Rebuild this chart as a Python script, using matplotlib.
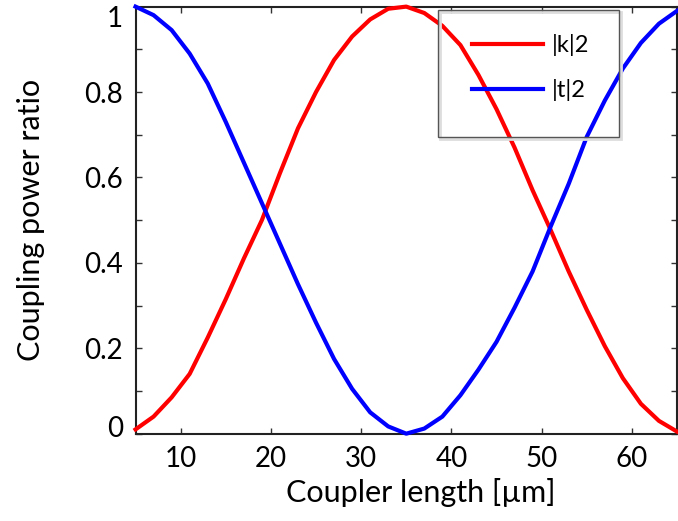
import numpy as np
import matplotlib
matplotlib.use('Agg')
import matplotlib.pyplot as plt
import matplotlib.transforms as mtransforms
from matplotlib.patches import Rectangle

plt.rcParams['font.family'] = ['Lato', 'DejaVu Sans']

# Coupler length [um]
length = [5, 7, 9, 11, 13, 15, 17, 19, 21, 23, 25, 27, 29, 31, 33, 35,
          37, 39, 41, 43, 45, 47, 49, 51, 53, 55, 57, 59, 61, 63, 65]
# |k|^2 : coupled power
kappa2 = [0.01, 0.04, 0.085, 0.14, 0.225, 0.315, 0.41, 0.50, 0.61, 0.715,
          0.80, 0.875, 0.93, 0.97, 0.995, 1.0, 0.985, 0.955, 0.91, 0.84,
          0.76, 0.67, 0.57, 0.477, 0.38, 0.29, 0.205, 0.13, 0.07, 0.03, 0.005]
# |t|^2 : transmitted power
tau2 = [1.0, 0.98, 0.945, 0.89, 0.82, 0.73, 0.635, 0.54, 0.445, 0.35,
        0.26, 0.175, 0.105, 0.05, 0.017, 0.0, 0.012, 0.04, 0.09, 0.15,
        0.215, 0.295, 0.38, 0.485, 0.585, 0.695, 0.78, 0.855, 0.915, 0.96, 0.99]

xticks = [10, 20, 30, 40, 50, 60]
yticks = [0, 0.2, 0.4, 0.6, 0.8, 1]
yticklabels = ['0', '0.2', '0.4', '0.6', '0.8', '1']

fig = plt.figure(figsize=(6.78, 5.21), dpi=100)
ax = fig.add_axes([0.1999, 0.1676, 0.7986, 0.8197])

l1, = ax.plot(length, kappa2, color='#ff0000', lw=3, label='|k|2', clip_on=False, zorder=7)
l2, = ax.plot(length, tau2, color='#0000ff', lw=3, label='|t|2', clip_on=False, zorder=7)

ax.set_xlim(5, 65)
ax.set_ylim(0, 1)
ax.set_xticks(xticks)
ax.set_yticks(yticks)
ax.set_yticklabels(yticklabels)
ax.set_yticks(np.arange(0.1, 1.0, 0.2), minor=True)
ax.tick_params(which='both', direction='in', top=True, right=True,
               length=4, width=1, color='#333333')
ax.tick_params(which='major', labelsize=20, pad=9)
for s in ax.spines.values():
    s.set_linewidth(1.5)
    s.set_color('#222222')

# end labels sit a bit inside, like the original
ylabs = ax.get_yticklabels()
ylabs[0].set_transform(ylabs[0].get_transform() + mtransforms.ScaledTranslation(0, 5 / 72, fig.dpi_scale_trans))
ylabs[-1].set_transform(ylabs[-1].get_transform() + mtransforms.ScaledTranslation(0, -7 / 72, fig.dpi_scale_trans))

ax.set_xlabel('Coupler length [µm]', fontsize=22, x=0.527, labelpad=4)
ax.set_ylabel('Coupling power ratio', fontsize=22, labelpad=28)

# legend box
fig.patches.append(Rectangle((440 / 678, 1 - 139 / 521), 181 / 678, 127 / 521,
                             transform=fig.transFigure, fill=False,
                             edgecolor='#dddddd', lw=2, zorder=4))
fig.patches.append(Rectangle((438 / 678, 1 - 137 / 521), 181 / 678, 127 / 521,
                             transform=fig.transFigure, fill=False,
                             edgecolor='#555555', lw=1, zorder=5))
leg = fig.legend(handles=[l1, l2], loc='upper left',
                 bbox_to_anchor=(472 / 678, 1 - 34 / 521),
                 frameon=False, fontsize=17, handlelength=3.0,
                 handletextpad=0.38, labelspacing=0.97, borderpad=0,
                 borderaxespad=0)
leg.set_zorder(6)

fig.savefig('out.png', dpi=100)
